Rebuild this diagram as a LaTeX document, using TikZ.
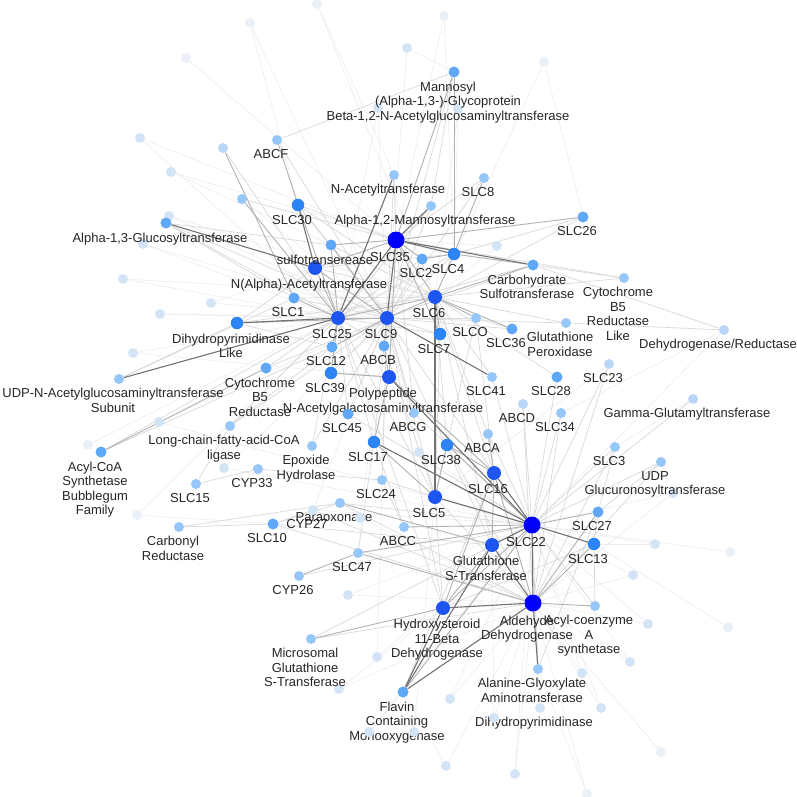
\documentclass[tikz,border=0pt]{standalone}
\usepackage{fontspec}
\setmainfont{Liberation Sans}
\usetikzlibrary{backgrounds}
\definecolor{c1}{RGB}{0,0,250}
\definecolor{c2}{RGB}{30,85,240}
\definecolor{c3}{RGB}{45,132,245}
\definecolor{c4}{RGB}{95,168,248}
\definecolor{c5}{RGB}{150,198,250}
\definecolor{c5b}{RGB}{185,214,248}
\definecolor{c6}{RGB}{212,228,247}
\definecolor{c7}{RGB}{234,240,248}
\begin{document}
\begin{tikzpicture}[x=1pt,y=-1pt,
  nd/.style={circle,inner sep=0pt,draw=none},
  big/.style={nd,minimum size=17pt,fill=c1},
  dk/.style={nd,minimum size=14pt,fill=c2},
  md/.style={nd,minimum size=12.5pt,fill=c3},
  lm/.style={nd,minimum size=11pt,fill=c4},
  lt/.style={nd,minimum size=10pt,fill=c5},
  lf/.style={nd,minimum size=10pt,fill=c5b},
  ft/.style={nd,minimum size=10pt,fill=c6},
  vf/.style={nd,minimum size=10pt,fill=c7},
  lbl/.style={font=\fontsize{13}{14.5}\selectfont,text=black!85,align=center,inner sep=0pt,xshift=-6pt},
  label distance=4pt,
  e1/.style={draw=black!7,line width=0.6pt},
  e2/.style={draw=black!15,line width=0.7pt},
  e3/.style={draw=black!30,line width=0.9pt},
  e4/.style={draw=black!55,line width=1.1pt}]
\useasboundingbox (0,0) rectangle (797,797);
% faint unlabeled nodes
\node[vf] (f1) at (250,23) {};
\node[vf] (f2) at (186,58) {};
\node[vf] (f3) at (317,4) {};
\node[vf] (f4) at (444,16) {};
\node[vf] (f5) at (544,62) {};
\node[ft] (f6) at (407,48) {};
\node[ft] (f7) at (378,108) {};
\node[ft] (f8) at (458,109) {};
\node[ft] (f9) at (140,138) {};
\node[lf] (f10) at (223,148) {};
\node[ft] (f11) at (171,172) {};
\node[lt] (f12) at (242,199) {};
\node[ft] (f13) at (169,216) {};
\node[ft] (f14) at (143,244) {};
\node[ft] (f15) at (123,279) {};
\node[ft] (f16) at (211,303) {};
\node[ft] (f17) at (160,314) {};
\node[ft] (f18) at (133,353) {};
\node[ft] (f19) at (159,422) {};
\node[vf] (f20) at (88,445) {};
\node[ft] (f21) at (224,468) {};
\node[vf] (f22) at (137,515) {};
\node[ft] (f23) at (497,246) {};
\node[ft] (f24) at (419,452) {};
\node[ft] (f26) at (348,595) {};
\node[ft] (f27) at (377,657) {};
\node[ft] (f28) at (339,689) {};
\node[ft] (f29) at (450,699) {};
\node[ft] (f35) at (655,544) {};
\node[vf] (f36) at (730,552) {};
\node[ft] (f37) at (633,575) {};
\node[ft] (f38) at (648,624) {};
\node[vf] (f39) at (728,627) {};
\node[ft] (f40) at (630,662) {};
\node[ft] (f41) at (582,673) {};
\node[ft] (f42) at (601,708) {};
\node[vf] (f43) at (661,752) {};
\node[vf] (f44) at (587,794) {};
\node[ft] (f45) at (673,493) {};
% big hubs
\node[big,label={[lbl]below:SLC35}] (slc35) at (396,240) {};
\node[big,label={[lbl]below:SLC22}] (slc22) at (532,525) {};
\node[big,label={[lbl]below:{Aldehyde\\Dehydrogenase}}] (ald) at (533,603) {};
% dark
\node[dk,label={[lbl]below:SLC25}] (slc25) at (338,318) {};
\node[dk,label={[lbl]below:SLC9}] (slc9) at (387,318) {};
\node[dk,label={[lbl]below:SLC6}] (slc6) at (435,297) {};
\node[dk,label={[lbl]below:N(Alpha)-Acetyltransferase}] (nalpha) at (315,268) {};
\node[dk,label={[lbl]below:{Polypeptide\\N-Acetylgalactosaminyltransferase}}] (poly) at (389,377) {};
\node[dk,label={[lbl]below:SLC5}] (slc5) at (435,497) {};
\node[dk,label={[lbl]below:SLC16}] (slc16) at (494,473) {};
\node[dk,label={[lbl]below:{Glutathione\\S-Transferase}}] (gst) at (492,545) {};
\node[dk,label={[lbl]below:{Hydroxysteroid\\11-Beta\\Dehydrogenase}}] (hsd) at (443,608) {};
% mid
\node[md,label={[lbl]below:SLC30}] (slc30) at (298,205) {};
\node[md,label={[lbl]below:SLC4}] (slc4) at (454,254) {};
\node[md,label={[lbl]below:SLC7}] (slc7) at (440,334) {};
\node[md,label={[lbl]below:SLC39}] (slc39) at (331,373) {};
\node[md,label={[lbl]below:SLC17}] (slc17) at (374,442) {};
\node[md,label={[lbl]below:SLC38}] (slc38) at (447,445) {};
\node[md,label={[lbl]below:{Dihydropyrimidinase\\Like}}] (dpl) at (237,323) {};
\node[md,label={[lbl]below:SLC13}] (slc13) at (594,544) {};
% light-mid
\node[lm,label={[lbl]below:SLC1}] (slc1) at (294,298) {};
\node[lm,label={[lbl]below:SLC12}] (slc12) at (332,347) {};
\node[lm,label={[lbl]below:ABCB}] (abcb) at (384,346) {};
\node[lm,label={[lbl]below:SLC45}] (slc45) at (348,414) {};
\node[lm,label={[lbl]below:SLC36}] (slc36) at (512,329) {};
\node[lm,label={[lbl]below:SLC27}] (slc27) at (598,512) {};
\node[lm,label={[lbl]below:{Flavin\\Containing\\Monooxygenase}}] (fmo) at (403,692) {};
\node[lm,label={[lbl]below:SLC28}] (slc28) at (557,377) {};
\node[lm,label={[lbl]below:sulfotranserease}] (sulfo) at (331,245) {};
\node[lm,label={[lbl]below:SLC2}] (slc2) at (422,259) {};
\node[lm,label={[lbl]below:{Carbohydrate\\Sulfotransferase}}] (carb) at (533,265) {};
\node[lm,label={[lbl]below:SLC26}] (slc26) at (583,217) {};
\node[lm,label={[lbl]below:{Cytochrome\\B5\\Reductase}}] (cb5r) at (266,368) {};
\node[lm,label={[lbl]below:{Acyl-CoA\\Synthetase\\Bubblegum\\Family}}] (acsbg) at (101,452) {};
\node[lm,label={[lbl]below:{Mannosyl\\(Alpha-1,3-)-Glycoprotein\\Beta-1,2-N-Acetylglucosaminyltransferase}}] (mannosyl) at (454,72) {};
\node[lm,label={[lbl]below:Alpha-1,3-Glucosyltransferase}] (a13g) at (166,223) {};
\node[lm,label={[lbl]below:SLC10}] (slc10) at (273,524) {};
% light
\node[lt,label={[lbl]below:SLC8}] (slc8) at (484,178) {};
\node[lt,label={[lbl]below:SLCO}] (slco) at (476,318) {};
\node[lt,label={[lbl]below:ABCG}] (abcg) at (414,413) {};
\node[lt,label={[lbl]below:ABCA}] (abca) at (488,434) {};
\node[lt,label={[lbl]below:SLC41}] (slc41) at (492,377) {};
\node[lt,label={[lbl]below:SLC34}] (slc34) at (561,413) {};
\node[lt,label={[lbl]below:SLC3}] (slc3) at (615,447) {};
\node[lt,label={[lbl]below:{UDP\\Glucuronosyltransferase}}] (ugt) at (661,462) {};
\node[lt,label={[lbl]below:SLC24}] (slc24) at (382,480) {};
\node[lt,label={[lbl]below:{Epoxide\\Hydrolase}}] (eph) at (312,446) {};
\node[lt,label={[lbl]below:CYP33}] (cyp33) at (258,469) {};
\node[lt,label={[lbl]below:SLC15}] (slc15) at (196,484) {};
\node[lt,label={[lbl]below:{Carbonyl\\Reductase}}] (cbr) at (179,527) {};
\node[lt,label={[lbl]below:SLC47}] (slc47) at (358,553) {};
\node[lt,label={[lbl]below:CYP26}] (cyp26) at (299,576) {};
\node[lt,label={[lbl]below:{Microsomal\\Glutathione\\S-Transferase}}] (mgst) at (311,639) {};
\node[lt,label={[lbl]below:Paraoxonase}] (pon) at (340,503) {};
\node[lt,label={[lbl]below:ABCF}] (abcf) at (277,140) {};
\node[lt,label={[lbl]below:N-Acetyltransferase}] (nat) at (394,175) {};
\node[lt,label={[lbl]below:Alpha-1,2-Mannosyltransferase}] (a12m) at (431,206) {};
\node[lt,label={[lbl]below:{UDP-N-Acetylglucosaminyltransferase\\Subunit}}] (udpsub) at (119,379) {};
\node[lt,label={[lbl]below:{Long-chain-fatty-acid-CoA\\ligase}}] (lcfa) at (230,426) {};
\node[lt,label={[lbl]below:{Alanine-Glyoxylate\\Aminotransferase}}] (agxt) at (538,669) {};
\node[lt,label={[lbl]below:{Acyl-coenzyme\\A\\synthetase}}] (acsa) at (595,606) {};
\node[lt,label={[lbl]below:{Glutathione\\Peroxidase}}] (gpx) at (566,323) {};
\node[lt,label={[lbl]below:{Cytochrome\\B5\\Reductase\\Like}}] (cb5rl) at (624,278) {};
\node[lt,label={[lbl]below:ABCC}] (abcc) at (404,527) {};
% lighter labelled
\node[lf,label={[lbl]below:SLC23}] (slc23) at (609,364) {};
\node[lf,label={[lbl]below:ABCD}] (abcd) at (523,404) {};
\node[lf,label={[lbl]below:Gamma-Glutamyltransferase}] (ggt) at (693,399) {};
\node[lf,label={[lbl]below:Dehydrogenase/Reductase}] (dehyd) at (724,330) {};
\node[ft,label={[lbl]below:CYP27}] (cyp27) at (313,510) {};
\node[ft,label={[lbl]below:Dihydropyrimidinase}] (dpys) at (540,708) {};
% faint nodes drawn over labels
\node[ft] (f25) at (360,518) {};
\node[ft] (f30) at (369,732) {};
\node[ft] (f31) at (414,732) {};
\node[ft] (f32) at (446,766) {};
\node[ft] (f33) at (515,774) {};
\node[ft] (f34) at (494,718) {};
\begin{pgfonlayer}{background}
\fill[white] (0,0) rectangle (797,797);
\foreach \a/\b in {f1/slc9,f1/slc30,f2/slc35,f3/slc6,f3/nat,f4/slc35,f4/slc4,f5/slc6,f5/slc26,f6/slc9,f6/mannosyl,f7/slc25,f7/slc9,f8/slc4,f8/slc6,f9/slc35,f9/slc25,f11/slc4,f11/sulfo,f12/slc9,f13/slc6,f13/slc9,f14/slc9,f14/slc25,f15/slc6,f15/slc25,f16/slc9,f16/nalpha,f17/slc25,f17/slc9,f18/slc25,f18/poly,f19/slc9,f19/slc22,f20/slc25,f21/slc9,f21/slc22,f22/slc10,f22/slc25,f23/slc6,f23/slc35,f24/slc9,f24/slc22,f25/ald,f25/slc9,f26/slc22,f26/ald,f27/slc22,f27/slc9,f28/ald,f28/hsd,f29/ald,f29/slc22,f30/fmo,f30/slc22,f31/fmo,f31/slc5,f32/fmo,f32/ald,f33/ald,f33/slc22,f34/ald,f34/gst,f35/slc22,f35/slc13,f36/slc22,f37/slc22,f37/ald,f38/ald,f38/slc22,f39/slc13,f40/ald,f40/slc22,f41/ald,f41/slc22,f42/ald,f42/slc22,f43/ald,f44/ald,f44/agxt,f45/slc22,f45/ald,dpys/ald,dpys/slc22,ggt/slc3,dehyd/slc34,dehyd/slc22,slc23/slc5,cyp27/slc22,cyp27/slc9}
  \draw[e1] (\a) -- (\b);
\foreach \a/\b in {a13g/slc25,a13g/slc1,a13g/sulfo,a13g/slc9,udpsub/dpl,udpsub/slc1,acsbg/slc12,acsbg/slc25,lcfa/slc9,lcfa/slc25,lcfa/slc12,cb5r/slc9,cb5r/slc25,slc15/cyp33,slc15/lcfa,cyp33/slc24,cbr/slc10,cbr/pon,slc10/pon,slc10/gst,slc10/ald,slc10/cyp27,cyp27/ald,pon/ald,pon/slc22,abcc/slc24,abcc/slc17,slc47/slc17,cyp26/slc22,mgst/ald,mgst/slc22,fmo/slc16,agxt/slc22,agxt/slc27,acsa/slc22,acsa/slc13,slc13/slc27,slc27/ugt,slc27/slc3,slc3/slc22,slc3/ald,ugt/slc22,ugt/ald,slc23/slc22,slc23/ald,slc34/slc22,slc34/ald,slc28/slc22,slc28/slc6,abcd/slc22,abcd/ald,abca/slc22,abca/slc6,slc41/slc22,slc41/slc6,gpx/slc6,gpx/slc9,gpx/dehyd,cb5rl/slc35,cb5rl/slc6,cb5rl/carb,carb/slc9,carb/slc25,slc26/slc6,slc26/slc4,slc36/slc9,slc36/slco,slco/slc9,slco/slc5,slco/slc16,slc7/slc5,slc7/slc9,slc7/slc25,abcb/slc25,abcb/slc5,slc12/slc9,slc39/slc9,slc39/poly,slc45/slc9,slc45/slc25,slc45/slc22,abcg/slc9,abcg/slc22,abcg/slc35,slc38/slc6,slc38/ald,slc17/slc9,slc17/slc25,eph/slc9,eph/slc25,slc24/slc9,slc24/slc5,slc5/ald,slc5/hsd,slc5/slc9,slc5/slc25,slc16/slc9,slc16/slc6,gst/slc9,gst/slc6,hsd/slc9,hsd/slc25,hsd/slc13,nalpha/slc6,nalpha/slc4,sulfo/slc6,sulfo/slc30,slc1/slc9,slc1/slc6,slc30/slc35,slc30/slc9,slc30/slc6,abcf/slc9,abcf/mannosyl,nat/slc9,nat/slc35,a12m/slc9,a12m/slc25,a12m/mannosyl,mannosyl/slc9,slc8/slc9,slc8/slc35,slc2/slc9,slc2/slc25,slc4/slc9,slc4/slc25,dpl/slc12,dpl/slc6,dpl/nalpha,ggt/slc22,dehyd/carb,f10/slc25,f12/slc35}
  \draw[e2] (\a) -- (\b);
\foreach \a/\b in {slc35/slc26,slc35/nalpha,slc35/sulfo,slc35/slc2,slc35/slc6,slc35/slc7,slc35/poly,slc35/mannosyl,slc22/slc27,slc22/slc47,slc22/hsd,slc22/slc38,slc22/abcc,slc22/fmo,ald/acsa,ald/slc13,ald/slc27,ald/slc16,ald/slc47,hsd/gst,hsd/slc16,pon/gst,cyp26/slc47,abcf/slc30,slc8/slc4,slc30/slc25,slc25/slc9,slc25/sulfo,slc25/slc1,slc9/slc6,slc9/nalpha,slc9/abcb,slc9/slc12,slc6/slc4,slc6/carb,slc6/slc7,slc6/slc25,slc6/slco,poly/slc16,poly/abcb,poly/slc39,slc5/slc38,slc5/slc17,slc16/gst,slc16/abca,slc16/slc38,mannosyl/slc4,acsbg/cb5r,mgst/hsd,slc2/slc4,slc4/carb,slc36/slc6,slc17/poly,slc12/slc25,dpl/slc9,nalpha/slc25,sulfo/slc9,slc39/slc25,f10/slc1,f12/slc25}
  \draw[e3] (\a) -- (\b);
\foreach \a/\b in {a13g/nalpha,udpsub/slc25,slc35/slc4,slc35/carb,slc35/slc9,slc35/a12m,slc22/slc5,slc22/slc17,slc22/poly,slc22/ald,slc22/slc13,ald/hsd,ald/agxt,ald/fmo,hsd/fmo,fmo/gst,slc6/slc5,slc22/gst,slc22/slc16,slc30/nalpha,nat/slc25,slc9/slc41,dpl/slc25,slc35/slc25,ald/gst}
  \draw[e4] (\a) -- (\b);
\end{pgfonlayer}
\end{tikzpicture}
\end{document}
